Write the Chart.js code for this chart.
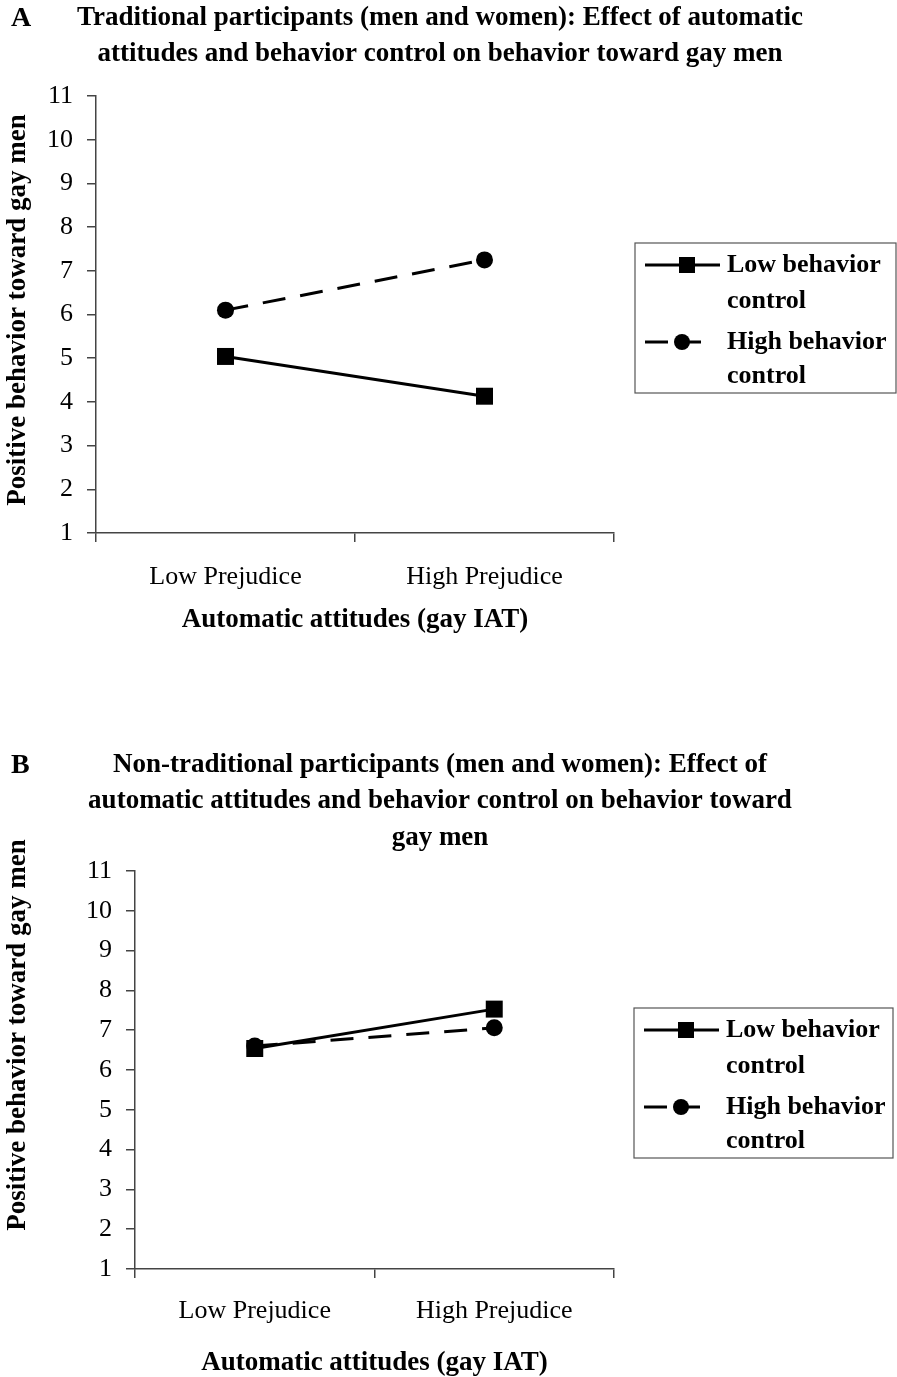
<!DOCTYPE html>
<html>
<head>
<meta charset="utf-8">
<script src="https://cdn.jsdelivr.net/npm/chart.js@4.4.0/dist/chart.umd.min.js"></script>
<style>
    html, body { margin: 0; padding: 0; background: #fff; width: 897px; height: 1377px; overflow: hidden; }
    .panel { position: absolute; left: 0; width: 897px; }
    #panelA { top: 0; }
    #panelB { top: 730px; }
</style>
</head>
<body>
<div class="panel" id="panelA"><canvas id="chartA" width="897" height="700"></canvas></div>
<div class="panel" id="panelB"><canvas id="chartB" width="897" height="660"></canvas></div>
<script>
// Dados
const categories = ['Low Prejudice', 'High Prejudice'];
const seriesNames = [['Low behavior', 'control'], ['High behavior', 'control']];
const yMin = 1;
const yMax = 11;

// Painel A - participantes tradicionais
const tradLowControl = [5.04, 4.13];
const tradHighControl = [6.10, 7.25];

// Painel B - participantes não tradicionais
const nonTradLowControl = [6.54, 7.53];
const nonTradHighControl = [6.60, 7.06];

const SERIF = "'Liberation Serif', 'Times New Roman', serif";
const AXIS_COLOR = '#444';

// Plugin para título, letra do painel, título do eixo Y e legenda em caixa
function panelTextPlugin(cfg) {
    return {
        id: 'panelText',
        afterDraw(chart) {
            const ctx = chart.ctx;
            ctx.save();
            ctx.fillStyle = '#000';
            ctx.textBaseline = 'middle';

            // letra do painel
            ctx.font = 'bold 28px ' + SERIF;
            ctx.textAlign = 'left';
            ctx.fillText(cfg.letter, 11, cfg.letterY);

            // título
            ctx.font = 'bold 27px ' + SERIF;
            ctx.textAlign = 'center';
            cfg.title.forEach((line, i) => {
                ctx.fillText(line, cfg.titleX, cfg.titleY + i * 36.5);
            });

            // título do eixo Y (rotacionado)
            ctx.save();
            ctx.translate(18, cfg.yTitleY);
            ctx.rotate(-Math.PI / 2);
            ctx.fillText('Positive behavior toward gay men', 0, 0);
            ctx.restore();

            // legenda
            const lg = cfg.legend;
            ctx.strokeStyle = '#555';
            ctx.lineWidth = 1.2;
            ctx.strokeRect(lg.x, lg.y, lg.w, lg.h);

            ctx.font = 'bold 26px ' + SERIF;
            ctx.textAlign = 'left';
            const rows = [lg.y + 22, lg.y + 58, lg.y + 99, lg.y + 133];
            chart.data.datasets.forEach((ds, i) => {
                const cy = rows[i * 2];
                ctx.strokeStyle = '#000';
                ctx.lineWidth = 3;
                ctx.setLineDash(ds.borderDash || []);
                ctx.beginPath();
                ctx.moveTo(lg.x + 10, cy);
                ctx.lineTo(lg.x + (i === 0 ? 85 : 66), cy);
                ctx.stroke();
                ctx.setLineDash([]);
                if (ds.pointStyle === 'rect') {
                    ctx.fillRect(lg.x + 44, cy - 8, 16, 16);
                } else {
                    ctx.beginPath();
                    ctx.arc(lg.x + 47, cy, 8, 0, Math.PI * 2);
                    ctx.fill();
                }
                ctx.fillText(seriesNames[i][0], lg.x + 92, cy);
                ctx.fillText(seriesNames[i][1], lg.x + 92, rows[i * 2 + 1]);
            });
            ctx.restore();
        }
    };
}

function criarGrafico(canvasId, lowData, highData, geo, textCfg) {
    const canvas = document.getElementById(canvasId);
    const xHeight = geo.xHeight;
    return new Chart(canvas, {
        type: 'line',
        data: {
            labels: categories,
            datasets: [{
                label: seriesNames[0].join(' '),
                data: lowData,
                borderColor: '#000',
                backgroundColor: '#000',
                borderWidth: 3,
                pointStyle: 'rect',
                pointRadius: 12,
                pointBackgroundColor: '#000',
                pointBorderWidth: 0,
                fill: false,
                tension: 0
            }, {
                label: seriesNames[1].join(' '),
                data: highData,
                borderColor: '#000',
                backgroundColor: '#000',
                borderWidth: 3,
                borderDash: [23, 15],
                pointStyle: 'circle',
                pointRadius: 8.5,
                pointBackgroundColor: '#000',
                pointBorderWidth: 0,
                fill: false,
                tension: 0
            }]
        },
        options: {
            responsive: false,
            animation: false,
            devicePixelRatio: 1,
            layout: {
                padding: {
                    left: 0,
                    right: 897 - geo.right,
                    top: geo.top,
                    bottom: canvas.height - geo.bottom - xHeight
                }
            },
            plugins: {
                legend: { display: false },
                tooltip: { enabled: false },
                title: { display: false }
            },
            scales: {
                x: {
                    type: 'category',
                    offset: true,
                    grid: {
                        display: true,
                        drawOnChartArea: false,
                        drawTicks: true,
                        tickLength: 9,
                        offset: true,
                        color: AXIS_COLOR,
                        lineWidth: 1.5
                    },
                    border: { display: true, color: AXIS_COLOR, width: 1.5 },
                    ticks: {
                        color: '#000',
                        padding: geo.tickPad,
                        font: { family: SERIF, size: 26 }
                    },
                    title: {
                        display: true,
                        text: 'Automatic attitudes (gay IAT)',
                        color: '#000',
                        font: { family: SERIF, size: 27, weight: 'bold' },
                        padding: { top: 0, bottom: 4 }
                    },
                    afterFit: (s) => { s.height = xHeight; }
                },
                y: {
                    min: yMin,
                    max: yMax,
                    grid: {
                        display: true,
                        drawOnChartArea: false,
                        drawTicks: true,
                        tickLength: 9,
                        color: AXIS_COLOR,
                        lineWidth: 1.5
                    },
                    border: { display: true, color: AXIS_COLOR, width: 1.5 },
                    ticks: {
                        stepSize: 1,
                        color: '#000',
                        padding: 14,
                        font: { family: SERIF, size: 26 }
                    },
                    afterFit: (s) => { s.width = geo.left; }
                }
            }
        },
        plugins: [panelTextPlugin(textCfg)]
    });
}

criarGrafico('chartA', tradLowControl, tradHighControl,
    { left: 96, right: 614, top: 96, bottom: 533, xHeight: 107, tickPad: 20 },
    {
        letter: 'A', letterY: 19,
        title: ['Traditional participants (men and women): Effect of automatic',
                'attitudes and behavior control on behavior toward gay men'],
        titleX: 440, titleY: 18,
        yTitleY: 310,
        legend: { x: 635, y: 243, w: 261, h: 150 }
    });

criarGrafico('chartB', nonTradLowControl, nonTradHighControl,
    { left: 135, right: 614, top: 141, bottom: 539, xHeight: 114, tickPad: 18 },
    {
        letter: 'B', letterY: 36,
        title: ['Non-traditional participants (men and women): Effect of',
                'automatic attitudes and behavior control on behavior toward',
                'gay men'],
        titleX: 440, titleY: 35,
        yTitleY: 305,
        legend: { x: 634, y: 278, w: 259, h: 150 }
    });
</script>
</body>
</html>
